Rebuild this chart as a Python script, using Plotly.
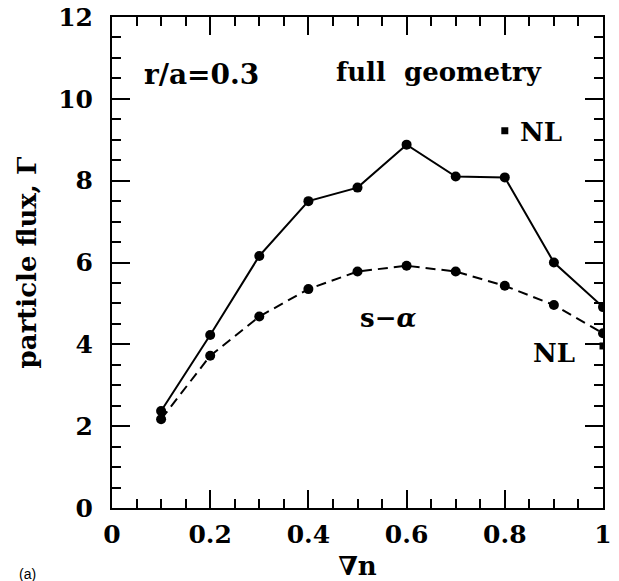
import plotly.graph_objects as go

grad_n = [0.1, 0.2, 0.3, 0.4, 0.5, 0.6, 0.7, 0.8, 0.9, 1.0]
flux_full = [2.37, 4.23, 6.16, 7.50, 7.83, 8.88, 8.10, 8.08, 6.00, 4.91]
flux_salpha = [2.17, 3.72, 4.68, 5.35, 5.78, 5.92, 5.78, 5.43, 4.96, 4.27]
nl_x = [0.8, 1.0]
nl_y = [9.22, 3.96]

FONT = "DejaVu Serif"
fig = go.Figure()
fig.add_trace(go.Scatter(x=grad_n, y=flux_full, mode="lines+markers", name="full geometry",
                         line=dict(color="black", width=2),
                         marker=dict(color="black", size=10, symbol="circle")))
fig.add_trace(go.Scatter(x=grad_n, y=flux_salpha, mode="lines+markers", name="s-α",
                         line=dict(color="black", width=2, dash="10px,6px"),
                         marker=dict(color="black", size=10, symbol="circle")))
fig.add_trace(go.Scatter(x=nl_x, y=nl_y, mode="markers", name="NL",
                         marker=dict(color="black", size=7, symbol="square")))

tf = dict(family=FONT, size=25, color="black", weight="bold")
ttf = dict(family=FONT, size=26, color="black", weight="bold")
fig.update_layout(
    width=619, height=581, showlegend=False,
    paper_bgcolor="white", plot_bgcolor="white",
    margin=dict(l=112, r=16, t=17, b=73),
    xaxis=dict(range=[0, 1], tickmode="linear", tick0=0, dtick=0.2,
               ticks="inside", ticklen=18, tickwidth=2, tickcolor="black",
               minor=dict(ticks="inside", ticklen=9, tickwidth=2, tickcolor="black", dtick=0.05),
               showline=True, linecolor="black", linewidth=2, mirror="allticks",
               showgrid=False, zeroline=False, tickfont=tf, automargin=False,
               ticklabelstandoff=3, ticklabeloverflow="allow",
               title=dict(text="∇n", font=ttf, standoff=11)),
    yaxis=dict(range=[0, 12], tickmode="linear", tick0=0, dtick=2,
               ticks="inside", ticklen=18, tickwidth=2, tickcolor="black",
               minor=dict(ticks="inside", ticklen=9, tickwidth=2, tickcolor="black", dtick=0.5),
               showline=True, linecolor="black", linewidth=2, mirror="allticks",
               showgrid=False, zeroline=False, tickfont=tf, automargin=False,
               ticklabelstandoff=12, ticklabeloverflow="allow",
               title=dict(text="particle flux, Γ", font=ttf, standoff=14)),
)

af = dict(family=FONT, size=26, color="black", weight="bold")
fig.add_annotation(x=0.182, y=10.6, text="r/a=0.3", showarrow=False,
                   font=dict(family=FONT, size=28, color="black", weight="bold"))
fig.add_annotation(x=0.666, y=10.65, text="full  geometry", showarrow=False, font=af)
fig.add_annotation(x=0.827, y=9.2, text="NL", showarrow=False, font=af, xanchor="left")
fig.add_annotation(x=0.562, y=4.65, text="s−<i>α</i>", showarrow=False, font=af)
fig.add_annotation(x=0.90, y=3.79, text="NL", showarrow=False, font=af)
fig.add_annotation(x=-0.193, y=-0.134, xref="paper", yref="paper", xanchor="left", yanchor="middle",
                   text="(a)", showarrow=False,
                   font=dict(family="Liberation Sans", size=14, color="black"))
fig.write_html("out.html", config={"displayModeBar": False},
               post_script="document.body.style.margin='0';")
